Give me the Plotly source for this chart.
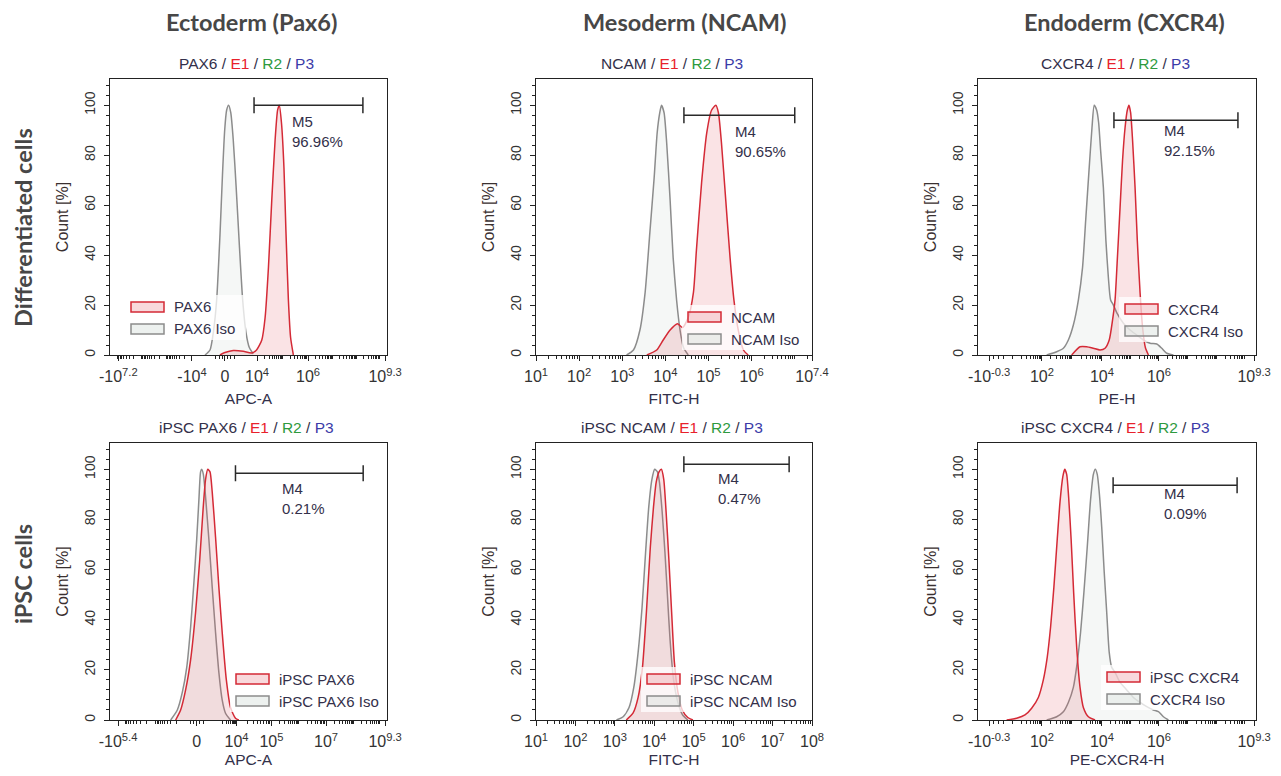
import math
import plotly.graph_objects as go

# The page body has an 8px margin; size the figure to the remaining area
OFF = 8
W, H = 1281 - 2 * OFF, 776 - 2 * OFF
FONT = "Liberation Sans, Arial, sans-serif"
TITLE_FONT = "Lato, Open Sans, sans-serif"

# ---------------- DATA ----------------
# x: axis display units (biexponential panels: 0-100 display scale,
# log panels: log10 of intensity); y: Count [%]

# Ectoderm (Pax6), differentiated cells, APC-A
pax6_x = [39.7, 41.5, 44.5, 48.1, 51.1, 52.9, 54.8, 56.0, 57.2, 58.4, 59.6, 60.5, 61.1, 61.9, 62.8, 63.5, 64.4, 65.2, 66.2]
pax6_y = [0, 1, 1.8, 1.5, 0.8, 2, 6, 15, 35, 62, 86, 98, 100, 93, 75, 50, 22, 7, 0]
pax6_iso_x = [34.3, 36.1, 37.3, 38.5, 39.7, 40.6, 41.4, 42.1, 42.8, 43.6, 44.5, 45.5, 46.7, 47.9, 49.1, 50.3, 51.7]
pax6_iso_y = [0, 2, 9, 22, 48, 72, 90, 98, 100, 97, 86, 68, 44, 22, 9, 3, 0.5]

# Mesoderm (NCAM), differentiated cells, FITC-H (log10)
ncam_x = [3.57, 3.80, 3.95, 4.11, 4.28, 4.40, 4.53, 4.65, 4.72, 4.84, 4.96, 5.07, 5.17, 5.23, 5.30, 5.40, 5.50, 5.59, 5.69, 5.81, 5.92]
ncam_y = [0, 2, 6, 10, 12.5, 11, 15, 25, 42, 69, 89, 98, 100, 97, 85, 62, 39, 22, 10, 2, 0]
ncam_iso_x = [3.10, 3.26, 3.41, 3.53, 3.64, 3.74, 3.81, 3.87, 3.91, 3.97, 4.03, 4.11, 4.18, 4.26, 4.34, 4.42, 4.53]
ncam_iso_y = [0, 2, 10, 25, 49, 71, 89, 97, 100, 97, 85, 62, 39, 22, 10, 3, 0]

# Endoderm (CXCR4), differentiated cells, PE-H
cxcr4_x = [33.7, 36.7, 39.1, 41.5, 43.9, 45.7, 47.2, 48.4, 49.3, 50.1, 51.1, 52.0, 52.9, 53.7, 54.3, 54.9, 55.6, 56.5, 57.3, 58.3, 59.2, 60.2, 61.3]
cxcr4_y = [0, 3.3, 3.3, 2.7, 2, 2.7, 6, 14, 22, 38, 59, 78, 91, 98, 100, 97, 86, 67, 46, 25, 11, 3, 0]
cxcr4_iso_x = [24.7, 28.3, 30.7, 32.5, 34.3, 36.1, 37.6, 38.8, 40.0, 41.0, 41.8, 42.7, 43.4, 44.1, 45.1, 46.0, 46.9, 47.7, 48.7, 49.9, 52.3, 54.7, 57.1, 59.5, 61.9, 64.3, 66.1, 67.9, 70.3]
cxcr4_iso_y = [0, 1.3, 2.7, 6, 12, 22, 35, 55, 75, 91, 100, 98, 93, 82, 67, 46, 31, 22, 20, 17, 12.7, 10, 8, 6, 4.7, 4.4, 2.7, 0.7, 0]

# iPSC PAX6, APC-A
ipsc_pax6_x = [23.7, 25.5, 27.3, 29.1, 30.9, 32.4, 33.6, 34.5, 35.3, 36.1, 36.9, 38.1, 39.3, 40.5, 42.0, 43.5, 45.3, 46.5]
ipsc_pax6_y = [0, 4, 12, 24, 43, 64, 84, 96, 100, 99, 91, 73, 53, 35, 16, 5, 0.7, 0]
ipsc_pax6_iso_x = [21.9, 24.3, 26.1, 27.7, 29.1, 30.3, 31.3, 32.1, 32.7, 33.1, 33.7, 34.5, 35.7, 36.9, 38.1, 39.3, 40.5, 41.7, 43.5]
ipsc_pax6_iso_y = [0, 4, 11, 21, 37, 55, 72, 88, 99, 100, 98, 89, 72, 53, 35, 19, 8, 2.7, 0]

# iPSC NCAM, FITC-H (log10)
ipsc_ncam_x = [3.29, 3.46, 3.59, 3.70, 3.80, 3.90, 3.98, 4.05, 4.12, 4.18, 4.24, 4.30, 4.37, 4.44, 4.51, 4.60, 4.71, 4.85, 4.98]
ipsc_ncam_y = [0, 2.7, 9, 21, 43, 69, 85, 95, 99, 100, 96, 83, 64, 43, 23, 11, 4, 1, 0]
ipsc_ncam_iso_x = [3.04, 3.21, 3.36, 3.48, 3.59, 3.69, 3.78, 3.86, 3.94, 4.01, 4.08, 4.13, 4.20, 4.27, 4.34, 4.40, 4.49, 4.60, 4.72, 4.85]
ipsc_ncam_iso_y = [0, 1.3, 5, 13, 27, 45, 67, 85, 96, 100, 99, 95, 83, 67, 48, 32, 16, 7, 2, 0]

# iPSC CXCR4, PE-CXCR4-H
ipsc_cxcr4_x = [10.3, 13.9, 16.9, 19.3, 21.7, 23.5, 24.9, 26.1, 27.3, 28.5, 29.5, 30.5, 31.2, 31.9, 32.6, 33.5, 34.4, 35.5, 36.7, 37.9, 39.7, 42.1]
ipsc_cxcr4_y = [0, 0.7, 2, 4.7, 9, 16, 25, 37, 53, 72, 87, 97, 100, 98, 89, 72, 51, 29, 13, 5, 1.3, 0]
ipsc_cxcr4_iso_x = [24.7, 28.3, 30.7, 32.5, 34.3, 35.7, 36.9, 38.1, 39.3, 40.5, 41.5, 42.2, 42.9, 43.6, 44.5, 45.4, 46.3, 47.2, 48.1, 49.3, 51.1, 53.5, 55.9, 58.3, 60.7, 63.1, 64.9, 66.7, 68.5]
ipsc_cxcr4_iso_y = [0, 1.3, 3.3, 7, 13, 23, 35, 51, 69, 88, 98, 100, 98, 91, 77, 59, 43, 27, 21, 19, 15, 12, 9, 7, 5.3, 4, 3.3, 1.3, 0]

# Gates (marker bars)
gate_names = ["M5", "M4", "M4", "M4", "M4", "M4"]
gate_pct = ["96.96%", "90.65%", "92.15%", "0.21%", "0.47%", "0.09%"]
gate_lo = [52.0, 4.43, 48.9, 45.3, 4.75, 48.6]
gate_hi = [91.3, 7.0, 93.5, 91.4, 7.42, 93.2]
gate_y = [100, 96, 94, 98.4, 102, 93.6]
gate_text_x = [65.0, 5.57, 66.2, 61.5, 5.57, 66.2]
gate_text_y = [89.6, 85.6, 86.0, 88.4, 92.4, 86.4]

# Labels
col_titles = ["Ectoderm (Pax6)", "Mesoderm (NCAM)", "Endoderm (CXCR4)"]
row_titles = ["Differentiated cells", "iPSC cells"]
sample_names = ["PAX6", "NCAM", "CXCR4", "iPSC PAX6", "iPSC NCAM", "iPSC CXCR4"]
legend_pos = ["PAX6", "NCAM", "CXCR4", "iPSC PAX6", "iPSC NCAM", "iPSC CXCR4"]
legend_iso = ["PAX6 Iso", "NCAM Iso", "CXCR4 Iso", "iPSC PAX6 Iso", "iPSC NCAM Iso", "CXCR4 Iso"]
x_titles = ["APC-A", "FITC-H", "PE-H", "APC-A", "FITC-H", "PE-CXCR4-H"]

# Tick labels (biexponential panels, display units)
ticks_p1 = [(3.0, "-10<sup>7.2</sup>"), (29.6, "-10<sup>4</sup>"), (41.5, "0"),
            (53.1, "10<sup>4</sup>"), (71.5, "10<sup>6</sup>"), (99.3, "10<sup>9.3</sup>")]
ticks_p3 = [(4.0, "-10<sup>-0.3</sup>"), (23.0, "10<sup>2</sup>"), (44.6, "10<sup>4</sup>"),
            (65.1, "10<sup>6</sup>"), (99.3, "10<sup>9.3</sup>")]
ticks_p4 = [(2.9, "-10<sup>5.4</sup>"), (31.3, "0"), (45.7, "10<sup>4</sup>"), (58.3, "10<sup>5</sup>"),
            (78.0, "10<sup>7</sup>"), (99.3, "10<sup>9.3</sup>")]
# log panels: labelled decades
log_labels_p2 = [1, 2, 3, 4, 5, 6, 7.4]
log_labels_p5 = [1, 2, 3, 4, 5, 6, 7, 8]

# decade spans used for sub-decade minor ticks on biexponential panels
dec_p1 = [(29.6, 20.5), (20.5, 11.4), (11.4, 2.3), (53.1, 62.3), (62.3, 71.5), (71.5, 80.3), (80.3, 89.0), (89.0, 97.7)]
lin_p1 = [38.0, 39.6, 40.6, 42.4, 43.4, 45.0, 20.5, 11.4, 62.3, 80.3, 89.0]
dec_p3 = [(12.5, 23.0), (23.0, 33.8), (33.8, 44.6), (44.6, 54.9), (54.9, 65.1), (65.1, 75.5), (75.5, 85.9), (85.9, 96.3)]
lin_p3 = [5.6, 7.2, 9.0, 12.5, 33.8, 54.9, 75.5, 85.9]
dec_p4 = [(27.0, 16.5), (16.5, 5.0), (38.5, 45.7), (45.7, 58.3), (58.3, 68.2), (68.2, 78.0), (78.0, 88.0), (88.0, 97.8)]
lin_p4 = [29.0, 30.2, 32.4, 33.6, 16.5, 68.2, 88.0]

# ---------------- LAYOUT GEOMETRY (reference pixels) ----------------
cols_px = [(110, 387), (536, 812), (978, 1256)]
rows_px = [(79, 355), (443, 720)]
col_title_cx = [251, 684, 1124]
sub_cx = [246, 672, 1115]
legend_xy = [(131, 302), (688, 312), (1125, 304), (236, 674), (647, 674), (1107, 672)]
legend_right = [246, 806, 1248, 384, 803, 1236]

RED = "#d42a36"
RED_FILL = "rgba(222, 80, 95, 0.16)"
GRAY = "#8c8c8c"
GRAY_FILL = "rgba(185, 198, 192, 0.15)"
TXT = "#33304a"


def px_x(p):
    return (p - OFF) / W


def px_y(p):
    return 1 - (p - OFF) / H


def minors_from(decs, lin):
    out = list(lin)
    for a, b in decs:
        for m in range(2, 10):
            out.append(a + math.log10(m) * (b - a))
    return out


def log_minors(top):
    out = []
    for k in range(1, 9):
        for m in range(1, 10):
            v = m * 10 ** k
            if math.log10(v) < top - 0.01:
                out.append(v)
    return out


def fmt_dec(d):
    return ("%g" % d)


curves = [
    (pax6_iso_x, pax6_iso_y, pax6_x, pax6_y),
    (ncam_iso_x, ncam_iso_y, ncam_x, ncam_y),
    (cxcr4_iso_x, cxcr4_iso_y, cxcr4_x, cxcr4_y),
    (ipsc_pax6_iso_x, ipsc_pax6_iso_y, ipsc_pax6_x, ipsc_pax6_y),
    (ipsc_ncam_iso_x, ipsc_ncam_iso_y, ipsc_ncam_x, ipsc_ncam_y),
    (ipsc_cxcr4_iso_x, ipsc_cxcr4_iso_y, ipsc_cxcr4_x, ipsc_cxcr4_y),
]
is_log = [False, True, False, False, True, False]
log_cfg = {1: log_labels_p2, 4: log_labels_p5}
biex_ticks = {0: (ticks_p1, dec_p1, lin_p1), 2: (ticks_p3, dec_p3, lin_p3),
              3: (ticks_p4, dec_p4, lin_p4), 5: (ticks_p3, dec_p3, lin_p3)}

fig = go.Figure()
layout = dict(width=W, height=H, autosize=False, margin=dict(l=0, r=0, t=0, b=0, pad=0),
              paper_bgcolor="white", plot_bgcolor="white", showlegend=False)
shapes = []
annotations = []

for i in range(6):
    r, c = divmod(i, 3)
    n = "" if i == 0 else str(i + 1)
    xa, ya = "x" + n, "y" + n
    iso_x, iso_y, pos_x, pos_y = curves[i]
    conv = (lambda v: [10 ** t for t in v]) if is_log[i] else (lambda v: list(v))

    fig.add_trace(go.Scatter(x=conv(iso_x), y=iso_y, xaxis=xa, yaxis=ya, mode="lines",
                             line=dict(color=GRAY, width=1.5, shape="spline", smoothing=0.6),
                             fill="tozeroy", fillcolor=GRAY_FILL, name=legend_iso[i]))
    fig.add_trace(go.Scatter(x=conv(pos_x), y=pos_y, xaxis=xa, yaxis=ya, mode="lines",
                             line=dict(color=RED, width=1.5, shape="spline", smoothing=0.6),
                             fill="tozeroy", fillcolor=RED_FILL, name=legend_pos[i]))

    # gate marker bar
    lo, hi = conv([gate_lo[i], gate_hi[i]])
    cen = (lo + hi) / 2
    fig.add_trace(go.Scatter(x=[cen], y=[gate_y[i]], xaxis=xa, yaxis=ya, mode="markers",
                             marker=dict(size=1, color="rgba(0,0,0,0)"), hoverinfo="skip",
                             name=gate_names[i],
                             error_x=dict(type="data", symmetric=False, array=[hi - cen],
                                          arrayminus=[cen - lo], color="#2a2a2a",
                                          thickness=1.5, width=8)))
    annotations.append(dict(x=gate_text_x[i], y=gate_text_y[i], xref=xa, yref=ya,
                            text=gate_names[i] + "<br>" + gate_pct[i], showarrow=False,
                            xanchor="left", yanchor="middle", align="left",
                            font=dict(family=FONT, size=15, color=TXT)))

    x0, x1 = cols_px[c]
    y0, y1 = rows_px[r]
    if is_log[i]:
        labs = log_cfg[i]
        top = labs[-1]
        tv = [10 ** k for k in labs]
        tt = ["10<sup>%s</sup>" % fmt_dec(k) for k in labs]
        xaxis = dict(type="log", range=[1, top], tickvals=tv, ticktext=tt,
                     minor=dict(tickmode="array", tickvals=log_minors(top), ticks="outside",
                                ticklen=3, tickcolor="#222", tickwidth=1))
    else:
        tks, decs, lin = biex_ticks[i]
        xaxis = dict(type="linear", range=[0, 100], tickvals=[t[0] for t in tks],
                     ticktext=[t[1] for t in tks],
                     minor=dict(tickmode="array", tickvals=minors_from(decs, lin), ticks="outside",
                                ticklen=3, tickcolor="#222", tickwidth=1))
    xaxis.update(dict(domain=[px_x(x0), px_x(x1)], anchor=ya, tickmode="array", ticklen=5,
                      tickangle=0, automargin=False, ticklabelstandoff=2,
                      tickfont=dict(family=FONT, size=16, color="#333"),
                      title=dict(text=x_titles[i], standoff=8,
                                 font=dict(family=FONT, size=15.5, color=TXT)),
                      ticks="outside", tickcolor="#222", tickwidth=1, showline=True,
                      linecolor="#222", linewidth=1.3, mirror=True, showgrid=False, zeroline=False))
    yaxis = dict(domain=[px_y(y1), px_y(y0)], anchor=xa, range=[0, 110.5], automargin=False,
                 tickmode="array", tickvals=[0, 20, 40, 60, 80, 100], tickangle=-90,
                 ticks="outside", ticklen=5, tickcolor="#222", tickwidth=1,
                 ticklabelstandoff=3,
                 tickfont=dict(family=FONT, size=14, color="#333"),
                 minor=dict(tick0=0, dtick=4, ticks="outside", ticklen=3, tickcolor="#222", tickwidth=1),
                 showline=True, linecolor="#222", linewidth=1.3, mirror=True,
                 showgrid=False, zeroline=False,
                 title=dict(text="Count [%]", standoff=9,
                            font=dict(family=FONT, size=16, color="#3a3030")))
    layout["xaxis" + n] = xaxis
    layout["yaxis" + n] = yaxis

    # subplot title
    sub = ("%s / <span style=\"color:#e8212b\">E1</span> / "
           "<span style=\"color:#2e9a3e\">R2</span> / "
           "<span style=\"color:#3b3ba8\">P3</span>") % sample_names[i]
    annotations.append(dict(x=px_x(sub_cx[c]), y=px_y(y0 - 16), xref="paper", yref="paper",
                            text=sub, showarrow=False, xanchor="center", yanchor="middle",
                            font=dict(family=FONT, size=15.5, color=TXT)))

    # legend box
    lx, ly = legend_xy[i]
    shapes.append(dict(type="rect", xref="paper", yref="paper", layer="above",
                       x0=px_x(lx - 6), x1=px_x(legend_right[i]), y0=px_y(ly + 38), y1=px_y(ly - 7),
                       fillcolor="rgba(255,255,255,0.75)", line=dict(width=0)))
    for k, (lc, fc, lab) in enumerate([(RED, "rgba(222, 80, 95, 0.22)", legend_pos[i]),
                                       ("#8c8c8c", "rgba(185, 198, 192, 0.25)", legend_iso[i])]):
        ty = ly + 22 * k
        shapes.append(dict(type="rect", xref="paper", yref="paper", layer="above",
                           x0=px_x(lx), x1=px_x(lx + 33), y0=px_y(ty + 10), y1=px_y(ty),
                           fillcolor=fc, line=dict(color=lc, width=1.5)))
        annotations.append(dict(x=px_x(lx + 41), y=px_y(ty + 5), xref="paper", yref="paper",
                                text=lab, showarrow=False, xanchor="left", yanchor="middle",
                                font=dict(family=FONT, size=15, color=TXT)))

for c in range(3):
    annotations.append(dict(x=px_x(col_title_cx[c]), y=px_y(22), xref="paper", yref="paper",
                            text="<b>%s</b>" % col_titles[c], showarrow=False,
                            xanchor="center", yanchor="middle",
                            font=dict(family=TITLE_FONT, size=23.5, color="#474747")))
row_cy = [228, 574]
for r in range(2):
    annotations.append(dict(x=px_x(23), y=px_y(row_cy[r]), xref="paper", yref="paper",
                            text="<b>%s</b>" % row_titles[r], showarrow=False, textangle=-90,
                            xanchor="center", yanchor="middle",
                            font=dict(family=TITLE_FONT, size=23.5, color="#474747")))

layout["shapes"] = shapes
layout["annotations"] = annotations
fig.update_layout(**layout)
fig.write_html("out.html")
